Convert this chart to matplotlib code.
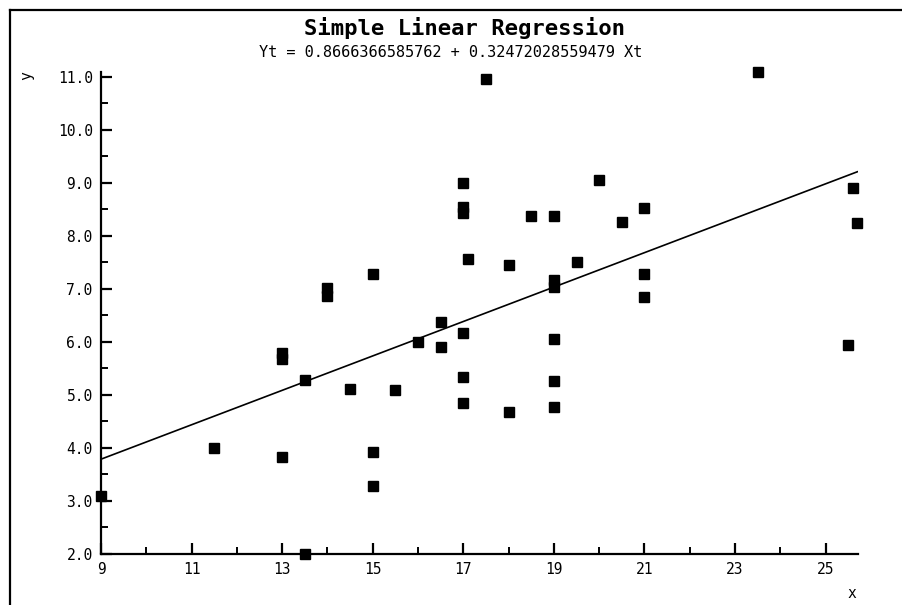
import matplotlib
matplotlib.use("Agg")
import matplotlib.pyplot as plt
from matplotlib.lines import Line2D
from matplotlib.ticker import MultipleLocator, FormatStrFormatter

# data
x_vals = [9, 11.5, 13, 13, 13, 13.5, 13.5, 14, 14, 14.5, 15, 15, 15, 15.5,
          16, 16.5, 16.5, 17, 17, 17, 17, 17, 17, 17.1, 17.5, 18, 18, 18.5,
          19, 19, 19, 19, 19, 19, 19.5, 20, 20.5, 21, 21, 21, 23.5,
          25.5, 25.6, 25.7]
y_vals = [3.1, 4.0, 3.83, 5.8, 5.68, 2.0, 5.28, 7.02, 6.87, 5.11, 7.28, 3.92,
          3.28, 5.09, 6.0, 6.38, 5.9, 9.0, 8.55, 8.44, 6.17, 5.34, 4.85, 7.57,
          10.96, 7.45, 4.68, 8.37, 8.37, 7.17, 7.04, 6.06, 5.26, 4.77, 7.51,
          9.06, 8.26, 8.53, 7.28, 6.85, 11.1, 5.94, 8.91, 8.25]

intercept = 0.8666366585762
slope = 0.32472028559479

title = "Simple Linear Regression"
subtitle = "Yt = 0.8666366585762 + 0.32472028559479 Xt"

plt.rcParams["font.family"] = "DejaVu Sans Mono"

fig = plt.figure(figsize=(9.02, 6.05), dpi=100)
ax = fig.add_axes([0.112, 0.0843, 0.839, 0.7972])

# regression line over the data range
x_line = [min(x_vals), max(x_vals)]
y_line = [intercept + slope * v for v in x_line]
ax.plot(x_line, y_line, c="black", lw=1.2, zorder=2)

ax.plot(x_vals, y_vals, ls="none", marker="s", ms=7.5, c="black",
        clip_on=False, zorder=4)

ax.set_xlim(9, 25.71)
ax.set_ylim(2, 11.1)

for side in ["top", "right"]:
    ax.spines[side].set_visible(False)
for side in ["left", "bottom"]:
    ax.spines[side].set_linewidth(1.6)

ax.xaxis.set_major_locator(MultipleLocator(2, offset=1))
ax.xaxis.set_minor_locator(MultipleLocator(1))
ax.yaxis.set_major_locator(MultipleLocator(1))
ax.yaxis.set_minor_locator(MultipleLocator(0.5))
ax.yaxis.set_major_formatter(FormatStrFormatter("%.1f"))

ax.tick_params(which="major", direction="in", length=8, width=1.6,
               labelsize=10.5, pad=6)
ax.tick_params(which="minor", direction="in", length=5, width=1.4)

fig.text(0.515, 0.953, title, ha="center", va="center",
         fontsize=16, fontweight="bold")
fig.text(0.5, 0.914, subtitle, ha="center", va="center", fontsize=11)

fig.text(852 / 902, 1 - 594 / 605, "x", ha="center", va="center", fontsize=10.5)
fig.text(27 / 902, 1 - 76 / 605, "y", ha="center", va="center",
         fontsize=10.5, rotation=90)

# window-like frame on the left and top
fig.add_artist(Line2D([9.5 / 902, 9.5 / 902], [0, 1 - 9.5 / 605],
                      transform=fig.transFigure, c="black", lw=1.6))
fig.add_artist(Line2D([9.5 / 902, 1], [1 - 9.5 / 605, 1 - 9.5 / 605],
                      transform=fig.transFigure, c="black", lw=1.6))

fig.savefig("out.png", dpi=100)
